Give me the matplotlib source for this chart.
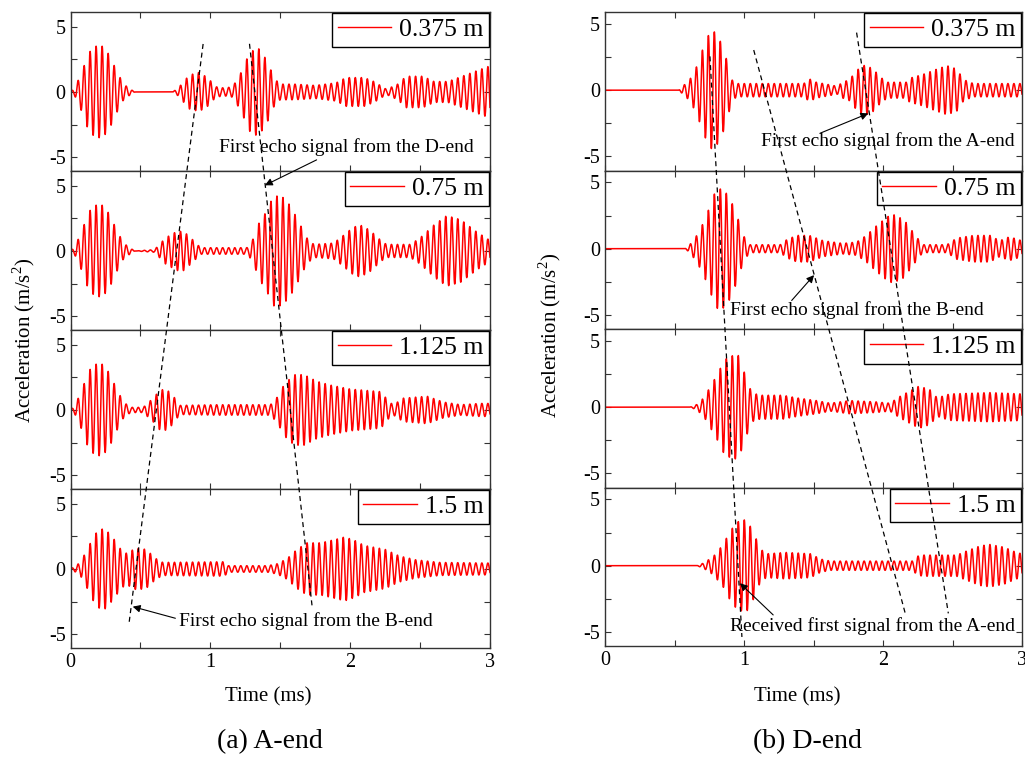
import numpy as np
import matplotlib
matplotlib.use("Agg")
import matplotlib.pyplot as plt
from matplotlib.ticker import MultipleLocator

plt.rcParams['font.family'] = ['Liberation Serif', 'DejaVu Serif']
plt.rcParams['mathtext.fontset'] = 'custom'
plt.rcParams['mathtext.rm'] = 'Liberation Serif'
plt.rcParams['axes.unicode_minus'] = False

# ---------------- data (envelopes) ----------------
carrier_khz = 23.2          # cycles per ms, read from peak spacing
labels = ["0.375 m", "0.75 m", "1.125 m", "1.5 m"]

# A-end panels: envelope time (ms) and amplitude (m/s^2)
a1_t = [0, .03, .08, .13, .18, .23, .28, .33, .38, .43, .46, .73, .77, .85, .92, .98, 1.04, 1.10, 1.16,
        1.22, 1.28, 1.34, 1.40, 1.46, 1.50, 1.60, 1.75, 1.90, 1.97, 2.10, 2.17, 2.26, 2.34, 2.40, 2.52,
        2.60, 2.70, 2.80, 2.90, 3.0]
a1_a = [0, .3, 1.5, 3.0, 3.5, 3.5, 2.8, 1.6, .6, .2, 0, 0, .3, 1.3, 1.5, 1.1, .4, .3, .4,
        1.5, 3.0, 3.4, 2.5, 1.0, .6, .6, .5, .7, 1.1, 1.1, .8, .2, .6, 1.2, 1.2,
        .8, .8, 1.2, 1.6, 2.0]

a2_t = [0, .03, .08, .13, .18, .23, .28, .33, .38, .43, .46, .60, .68, .76, .81, .88, .93, 1.26, 1.27,
        1.31, 1.35, 1.40, 1.45, 1.51, 1.57, 1.62, 1.69, 1.74, 1.88, 1.93, 2.02, 2.07, 2.14, 2.22, 2.26,
        2.43, 2.50, 2.60, 2.69, 2.79, 2.90, 3.0]
a2_a = [0, .3, 1.5, 3.0, 3.5, 3.5, 2.8, 1.6, .6, .2, 0, .1, 1.0, 1.5, 1.5, .8, .25, .25, .3,
        1.0, 2.2, 3.0, 4.2, 4.2, 3.5, 2.5, 1.0, .5, .6, 1.0, 1.8, 2.0, 1.6, .8, .5,
        .5, 1.0, 2.0, 2.7, 2.4, 1.5, .8]

a3_t = [0, .03, .08, .13, .18, .23, .28, .33, .38, .43, .52, .53, .60, .64, .69, .74, .78, 1.05, 1.43,
        1.48, 1.53, 1.60, 1.67, 1.76, 1.86, 2.00, 2.22, 2.28, 2.31, 2.38, 2.55, 2.67, 2.79, 2.93, 3.0]
a3_a = [0, .3, 1.5, 3.0, 3.5, 3.5, 2.8, 1.6, .6, .2, .2, .3, 1.0, 1.55, 1.55, 1.0, .35, .4, .4,
        1.0, 2.0, 2.7, 2.7, 2.2, 1.9, 1.6, 1.4, .6, .4, .9, 1.05, .6, .4, .5, .5]

a4_t = [0, .03, .07, .12, .17, .21, .25, .31, .36, .40, .47, .54, .61, .66, 1.10, 1.13, 1.41, 1.48,
        1.55, 1.62, 1.69, 1.79, 1.91, 1.96, 2.03, 2.10, 2.25, 2.35, 2.47, 2.64, 3.0]
a4_a = [0, .2, .5, 1.5, 2.6, 3.05, 3.05, 2.3, 1.5, 1.2, 1.6, 1.5, .8, .5, .55, .25, .25, .4,
        .8, 1.5, 2.0, 2.0, 2.3, 2.45, 2.2, 1.8, 1.5, 1.0, .7, .5, .45]

# D-end panels
d1_t = [0, .53, .54, .61, .66, .71, .755, .79, .84, .89, .91, .95, 1.43, 1.47, 1.52, 1.67, 1.71, 1.76,
        1.81, 1.87, 1.93, 1.98, 2.03, 2.17, 2.19, 2.29, 2.39, 2.46, 2.53, 2.58, 2.65, 3.0]
d1_a = [0, 0, .1, .8, 1.8, 3.3, 4.4, 4.4, 3.5, 1.8, .8, .5, .5, .85, .6, .3, .6, .8,
        1.5, 1.9, 1.6, 1.0, .6, .6, .9, 1.2, 1.6, 1.85, 1.6, .8, .5, .5]

d2_t = [0, .575, .61, .66, .71, .755, .80, .85, .90, .95, .995, 1.04, 1.26, 1.31, 1.38, 1.47, 1.57,
        1.71, 1.81, 1.88, 1.95, 2.03, 2.07, 2.15, 2.22, 2.27, 2.29, 2.46, 2.53, 2.65, 2.77, 2.84, 2.91, 3.0]
d2_a = [0, 0, .3, 1.0, 2.0, 3.2, 4.5, 4.5, 3.8, 2.5, 1.0, .3, .3, .7, 1.0, 1.0, .6,
        .4, .5, 1.0, 1.7, 2.4, 2.6, 2.2, 1.2, .5, .3, .3, .8, 1.0, 1.0, .6, .9, .6]

d3_t = [0, .61, .66, .71, .755, .815, .86, .92, .96, 1.01, 1.055, 1.115, 1.28, 1.38, 1.52, 1.62, 1.76,
        1.95, 2.05, 2.12, 2.19, 2.26, 2.34, 2.39, 2.48, 2.77, 3.0]
d3_a = [0, 0, .2, .7, 1.5, 2.6, 3.6, 3.9, 3.9, 2.4, 1.1, .9, .9, .7, .5, .3, .5,
        .4, .3, .8, 1.2, 1.6, 1.3, .7, 1.0, 1.1, 1.0]

d4_t = [0, .66, .71, .78, .85, .90, .95, .995, 1.02, 1.07, 1.115, 1.16, 1.30, 1.48, 1.55, 1.62, 2.22,
        2.24, 2.29, 2.53, 2.60, 2.70, 2.77, 2.87, 2.96, 3.0]
d4_a = [0, 0, .2, .7, 1.6, 2.6, 3.3, 3.45, 3.45, 2.5, 1.3, .9, 1.0, .9, .5, .35, .35,
        .7, .8, .8, 1.1, 1.5, 1.6, 1.4, 1.0, .9]

a_env = [(a1_t, a1_a), (a2_t, a2_a), (a3_t, a3_a), (a4_t, a4_a)]
d_env = [(d1_t, d1_a), (d2_t, d2_a), (d3_t, d3_a), (d4_t, d4_a)]

# ---------------- figure ----------------
W, H = 1025, 758
fig = plt.figure(figsize=(W / 100, H / 100), dpi=100)

t = np.linspace(0, 3, 4000)


def make_column(x0, x1, top, ph, env, ylim):
    axes = []
    for i in range(4):
        y_top = top + ph * i
        ax = fig.add_axes([x0 / W, 1 - (y_top + ph) / H, (x1 - x0) / W, ph / H])
        et, ea = env[i]
        y = np.interp(t, et, ea) * np.sin(2 * np.pi * carrier_khz * t)
        ax.plot(t, y, color='red', lw=1.1, label=labels[i])
        ax.set_xlim(0, 3)
        ax.set_ylim(*ylim)
        ax.set_yticks([-5, 0, 5])
        ax.yaxis.set_minor_locator(MultipleLocator(2.5))
        ax.set_xticks([0, 1, 2, 3])
        ax.xaxis.set_minor_locator(MultipleLocator(0.5))
        ax.tick_params(which='both', direction='in', top=True, right=True,
                       labelsize=14.5, width=0.8, length=4, color='#333333')
        if i < 3:
            ax.tick_params(labelbottom=False)
        for s in ax.spines.values():
            s.set_color('#333333')
            s.set_linewidth(1.0)
        leg = ax.legend(loc='upper right', fontsize=18.5, frameon=True, fancybox=False,
                        edgecolor='black', framealpha=1, borderaxespad=0.05,
                        handlelength=2.1, handletextpad=0.3, borderpad=0.2)
        leg.get_frame().set_linewidth(1.0)
        for h in leg.get_lines():
            h.set_linewidth(1.0)
        axes.append(ax)
    ov = fig.add_axes([x0 / W, 1 - (top + 4 * ph) / H, (x1 - x0) / W, 4 * ph / H])
    ov.set_xlim(0, 3)
    ov.set_ylim(0, 4)
    ov.axis('off')
    ov.patch.set_alpha(0)
    return axes, ov


axL, ovL = make_column(70.5, 490, 12, 159, a_env, (-6.05, 6.12))
axR, ovR = make_column(605, 1022, 12, 158.5, d_env, (-6.06, 5.9))

dash = dict(color='black', lw=0.9, ls=(0, (4, 3)))
arrow = dict(arrowstyle='-|>', color='black', lw=0.8, mutation_scale=11, shrinkA=0, shrinkB=0)
tfs = 14

# A-end annotations
ovL.plot([0.42, 0.95], [0.165, 3.81], **dash)
ovL.plot([1.28, 1.73], [3.80, 0.245], **dash)
ovL.text(1.06, 3.15, "First echo signal from the D-end", fontsize=tfs, va='center', ha='left')
ovL.annotate("", xy=(1.39, 2.91), xytext=(1.76, 3.07), arrowprops=arrow)
ovL.text(0.776, 0.17, "First echo signal from the B-end", fontsize=tfs, va='center', ha='left')
ovL.annotate("", xy=(0.445, 0.26), xytext=(0.75, 0.187), arrowprops=arrow)

# D-end annotations
ovR.plot([0.755, 0.985], [3.72, 0.057], **dash)
ovR.plot([1.07, 2.16], [3.76, 0.206], **dash)
ovR.plot([1.81, 2.47], [3.87, 0.206], **dash)
ovR.text(1.122, 3.186, "First echo signal from the A-end", fontsize=tfs, va='center', ha='left')
ovR.annotate("", xy=(1.894, 3.36), xytext=(1.547, 3.235), arrowprops=arrow)
ovR.text(0.9, 2.12, "First echo signal from the B-end", fontsize=tfs, va='center', ha='left')
ovR.annotate("", xy=(1.504, 2.34), xytext=(1.343, 2.18), arrowprops=arrow)
ovR.text(0.9, 0.126, "Received first signal from the A-end", fontsize=tfs, va='center', ha='left')
ovR.annotate("", xy=(0.971, 0.396), xytext=(1.21, 0.196), arrowprops=arrow)

# labels
ylab = r"Acceleration (m/s$^\mathregular{2}$)"
fig.text(24 / W, 1 - 340 / H, ylab, rotation=90, fontsize=15, ha='center', va='center')
fig.text(550 / W, 1 - 335 / H, ylab, rotation=90, fontsize=15, ha='center', va='center')
fig.text(268 / W, 1 - 697 / H, "Time (ms)", fontsize=15, ha='center', va='center')
fig.text(797 / W, 1 - 697 / H, "Time (ms)", fontsize=15, ha='center', va='center')
fig.text(270 / W, 1 - 742 / H, "(a) A-end", fontsize=20, ha='center', va='center')
fig.text(807 / W, 1 - 742 / H, "(b) D-end", fontsize=20, ha='center', va='center')

fig.savefig("out.png", dpi=100)
